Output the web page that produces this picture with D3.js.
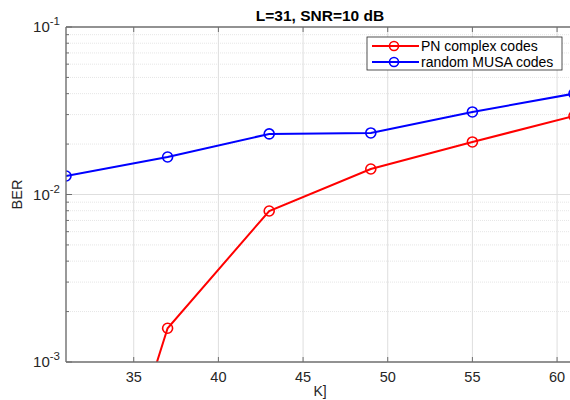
<!DOCTYPE html>
<html>
<head>
<meta charset="utf-8">
<script src="https://cdn.jsdelivr.net/npm/d3@7"></script>
<style>
  body { margin: 0; background: #fff; }
  text { font-family: "Liberation Sans", Arial, sans-serif; }
</style>
</head>
<body>
<div id="chart"></div>
<script>
// data
var kValues = [31, 37, 43, 49, 55, 61];
var pnBer = [0.000019, 0.00159, 0.00797, 0.0142, 0.0206, 0.0294];
var musaBer = [0.0129, 0.01675, 0.0230, 0.0233, 0.0311, 0.0400];
var xTicks = [35, 40, 45, 50, 55, 60];
var yTicks = [1e-3, 1e-2, 1e-1];
var seriesNames = ["PN complex codes", "random MUSA codes"];

var W = 570, H = 400;
var margin = {top: 27, right: -4, bottom: 38, left: 66};
var width = W - margin.left - margin.right,
    height = H - margin.top - margin.bottom;

var svg = d3.select("#chart").append("svg")
  .attr("width", W).attr("height", H);

svg.append("defs").append("clipPath").attr("id", "clip")
  .append("rect").attr("width", width).attr("height", height);

var g = svg.append("g")
  .attr("transform", "translate(" + margin.left + "," + margin.top + ")");

var x = d3.scaleLinear().domain([31, 61]).range([0, width]);
var y = d3.scaleLog().domain([1e-3, 1e-1]).range([height, 0]);

// minor ticks for log axis
var minorY = [];
[1e-3, 1e-2].forEach(function(d) {
  for (var i = 2; i <= 9; i++) minorY.push(d * i);
});

// grid
g.selectAll(".ygrid-minor").data(minorY).enter().append("line")
  .attr("x1", 0).attr("x2", width)
  .attr("y1", function(d) { return y(d); }).attr("y2", function(d) { return y(d); })
  .attr("stroke", "#e6e6e6").attr("stroke-dasharray", "1,1");
g.selectAll(".ygrid").data([1e-2]).enter().append("line")
  .attr("x1", 0).attr("x2", width)
  .attr("y1", function(d) { return y(d); }).attr("y2", function(d) { return y(d); })
  .attr("stroke", "#dedede");
g.selectAll(".xgrid").data(xTicks).enter().append("line")
  .attr("y1", 0).attr("y2", height)
  .attr("x1", function(d) { return x(d); }).attr("x2", function(d) { return x(d); })
  .attr("stroke", "#dedede");

// lines + markers
var line = d3.line()
  .x(function(d, i) { return x(kValues[i]); })
  .y(function(d) { return y(d); });

var plot = g.append("g").attr("clip-path", "url(#clip)");
[[pnBer, "#ff0000"], [musaBer, "#0000ff"]].forEach(function(s) {
  plot.append("path").datum(s[0])
    .attr("d", line).attr("fill", "none")
    .attr("stroke", s[1]).attr("stroke-width", 2);
  plot.selectAll(null).data(s[0]).enter().append("circle")
    .attr("cx", function(d, i) { return x(kValues[i]); })
    .attr("cy", function(d) { return y(d); })
    .attr("r", 5).attr("fill", "none")
    .attr("stroke", s[1]).attr("stroke-width", 1.6);
});

// axes box
var axisColor = "#6e6e6e";
g.append("line").attr("x1", 0).attr("x2", width).attr("y1", height).attr("y2", height)
  .attr("stroke", axisColor).attr("stroke-width", 1.4);
g.append("line").attr("x1", 0).attr("x2", width).attr("y1", 0).attr("y2", 0)
  .attr("stroke", axisColor).attr("stroke-width", 1.4);
g.append("line").attr("x1", 0).attr("x2", 0).attr("y1", 0).attr("y2", height)
  .attr("stroke", axisColor).attr("stroke-width", 1.4);

// x ticks (inside)
xTicks.forEach(function(t) {
  g.append("line").attr("x1", x(t)).attr("x2", x(t)).attr("y1", height).attr("y2", height - 5)
    .attr("stroke", axisColor);
  g.append("line").attr("x1", x(t)).attr("x2", x(t)).attr("y1", 0).attr("y2", 5)
    .attr("stroke", axisColor);
  g.append("text").attr("x", x(t)).attr("y", height + 20)
    .attr("text-anchor", "middle").attr("font-size", 14.5).attr("fill", "#262626")
    .text(t);
});

// y ticks
minorY.forEach(function(t) {
  g.append("line").attr("x1", 0).attr("x2", 3).attr("y1", y(t)).attr("y2", y(t))
    .attr("stroke", axisColor);
});
yTicks.forEach(function(t) {
  g.append("line").attr("x1", 0).attr("x2", 6).attr("y1", y(t)).attr("y2", y(t))
    .attr("stroke", axisColor);
  var lbl = g.append("text").attr("x", -6).attr("y", y(t) + 5)
    .attr("text-anchor", "end").attr("font-size", 15).attr("fill", "#262626");
  lbl.append("tspan").text("10");
  lbl.append("tspan").attr("dy", -7).attr("font-size", 11.5).text(Math.round(Math.log10(t)));
});

// labels
svg.append("text").attr("x", 320).attr("y", 21)
  .attr("text-anchor", "middle").attr("font-size", 15.5).attr("font-weight", "bold")
  .attr("fill", "#000").text("L=31, SNR=10 dB");
svg.append("text").attr("transform", "translate(22," + (margin.top + y(1e-2)) + ") rotate(-90)")
  .attr("text-anchor", "middle").attr("font-size", 14.5).attr("fill", "#262626").text("BER");
svg.append("text").attr("x", 320).attr("y", 396)
  .attr("text-anchor", "middle").attr("font-size", 14).attr("fill", "#262626").text("K]");

// legend
var lg = svg.append("g").attr("transform", "translate(367,37)");
lg.append("rect").attr("width", 195).attr("height", 33)
  .attr("fill", "#fff").attr("stroke", "#262626").attr("stroke-width", 0.8);
["#ff0000", "#0000ff"].forEach(function(c, i) {
  var yy = 9 + i * 16;
  lg.append("line").attr("x1", 5).attr("x2", 52).attr("y1", yy).attr("y2", yy)
    .attr("stroke", c).attr("stroke-width", 2);
  lg.append("circle").attr("cx", 27).attr("cy", yy).attr("r", 4.5)
    .attr("fill", "none").attr("stroke", c).attr("stroke-width", 1.6);
  lg.append("text").attr("x", 54).attr("y", yy + 5)
    .attr("font-size", 14).attr("fill", "#000").text(seriesNames[i]);
});
</script>
</body>
</html>
